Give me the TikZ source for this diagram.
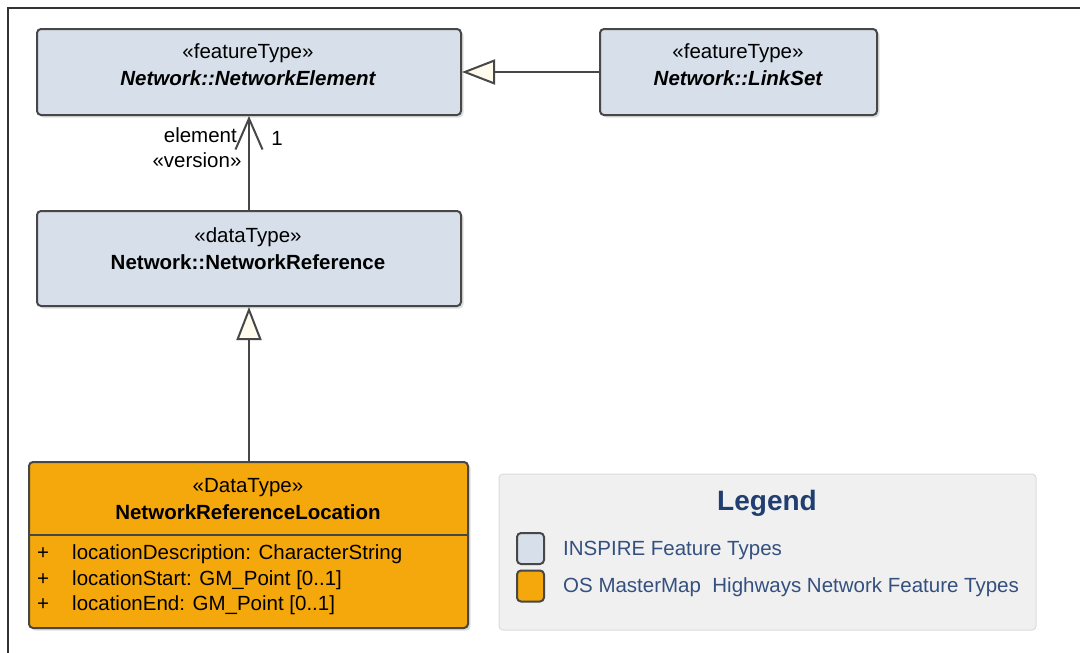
\documentclass[tikz,border=0pt]{standalone}
\usepackage{fontspec}
\setmainfont{Liberation Sans}
\usetikzlibrary{arrows.meta,shadows}
\definecolor{inspire}{HTML}{D6DFEA}
\definecolor{osmm}{HTML}{F5A80B}
\definecolor{edgec}{HTML}{474747}
\definecolor{cream}{HTML}{FFFCEE}
\definecolor{legbg}{HTML}{F0F0F0}
\definecolor{legline}{HTML}{DCDCDC}
\definecolor{legtxt}{HTML}{34507F}
\definecolor{legtitle}{HTML}{203E70}
\definecolor{framec}{HTML}{333333}
\begin{document}
\begin{tikzpicture}[x=1pt,y=-1pt,
  box/.style={draw=edgec,line width=2pt,rounded corners=4pt,inner sep=0pt,
    drop shadow={shadow xshift=2.5pt,shadow yshift=-2.5pt,opacity=0.25}},
  inspirebox/.style={box,fill=inspire},
  osbox/.style={box,fill=osmm},
  txt/.style={inner sep=0pt,font=\fontsize{20.5}{24}\selectfont},
  bname/.style={inner sep=0pt,font=\fontsize{20.5}{24}\selectfont\bfseries},
  biname/.style={inner sep=0pt,font=\fontsize{20.5}{24}\selectfont\bfseries\itshape},
  legtext/.style={inner sep=0pt,anchor=west,text=legtxt,font=\fontsize{20.5}{24}\selectfont},
  swatch/.style={draw=edgec,line width=2pt,rounded corners=4pt,inner sep=0pt,minimum width=27pt,minimum height=31pt},
  gen/.style={draw=edgec,line width=2pt,-{Triangle[length=33pt,width=25pt,fill=cream]}},
  assoc/.style={draw=edgec,line width=2pt,-{Straight Barb[length=31pt,width=27pt]}}
]
\useasboundingbox (0,0) rectangle (1080,653);
\fill[white] (0,0) rectangle (1080,653);
\draw[framec,line width=2.5pt] (1080,8) -- (8,8) -- (8,653);

% NetworkElement
\node[inspirebox,minimum width=424pt,minimum height=86pt] (ne) at (249,72) {};
\node[txt] (neS) at (248,53) {«featureType»};
\node[biname] (neN) at (248,78) {Network::NetworkElement};

% LinkSet
\node[inspirebox,minimum width=277pt,minimum height=86pt] (ls) at (738.5,72) {};
\node[txt] (lsS) at (738,53) {«featureType»};
\node[biname] (lsN) at (738,78) {Network::LinkSet};

% NetworkReference
\node[inspirebox,minimum width=424pt,minimum height=95pt] (nr) at (249,258.5) {};
\node[txt] (nrS) at (248,237) {«dataType»};
\node[bname] (nrN) at (248,262) {Network::NetworkReference};

% NetworkReferenceLocation
\node[osbox,minimum width=439pt,minimum height=166pt] (nrl) at (248.5,545) {};
\node[txt] (nrlS) at (248,488) {«DataType»};
\node[bname] (nrlN) at (248,512) {NetworkReferenceLocation};
\draw[edgec,line width=2pt] (nrl.west |- 0,535) -- (nrl.east |- 0,535);
\node[txt] (p1) at (43,554) {+};
\node[txt] (p2) at (43,580) {+};
\node[txt] (p3) at (43,605) {+};
\node[txt,anchor=west] (a1) at (72,554) {locationDescription: CharacterString};
\node[txt,anchor=west] (a2) at (72,580) {locationStart: GM\_Point [0..1]};
\node[txt,anchor=west] (a3) at (72,605) {locationEnd: GM\_Point [0..1]};

% connectors
\draw[gen] (ls.west) -- (ne.east);
\draw[assoc] (nr.north) -- (ne.south);
\draw[gen] (nrl.north -| nr.south) -- (nr.south);

% association labels
\node[txt,anchor=east] (lelem) at (237,135) {element};
\node[txt] (lver) at (197,160) {«version»};
\node[txt] (lone) at (277,138) {1};

% Legend
\node[draw=legline,fill=legbg,line width=1pt,rounded corners=4pt,minimum width=537pt,minimum height=156pt,inner sep=0pt] (leg) at (767.5,552) {};
\node[inner sep=0pt,text=legtitle,font=\fontsize{28}{32}\selectfont\bfseries] (legT) at (767,503) {Legend};
\node[swatch,fill=inspire] (sw1) at (530.5,548.5) {};
\node[swatch,fill=osmm] (sw2) at (530.5,586) {};
\node[legtext] (lt1) at (563,550) {INSPIRE Feature Types};
\node[legtext] (lt2) at (563,587) {OS MasterMap\ \ Highways Network Feature Types};
\end{tikzpicture}
\end{document}
